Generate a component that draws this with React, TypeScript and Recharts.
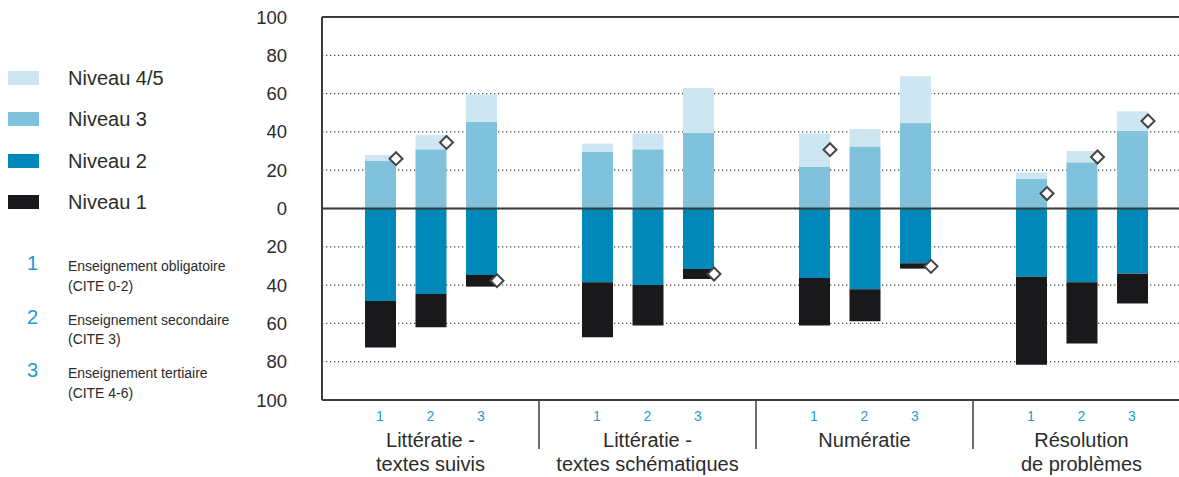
import React from 'react';
import { BarChart, Bar, XAxis, YAxis, CartesianGrid, ReferenceLine } from 'recharts';

// domaines de compétences (catégories de l'axe X)
const domaines = [
  ['Littératie -', 'textes suivis'],
  ['Littératie -', 'textes schématiques'],
  ['Numératie'],
  ['Résolution', 'de problèmes'],
];

// niveaux de formation : 1 obligatoire, 2 secondaire, 3 tertiaire
const formations = ['1', '2', '3'];
const formationLabels = [
  ['Enseignement obligatoire', '(CITE 0-2)'],
  ['Enseignement secondaire', '(CITE 3)'],
  ['Enseignement tertiaire', '(CITE 4-6)'],
];

// pourcentages par domaine, puis par formation (1, 2, 3)
const niveau1 = [
  [24.3, 17.4, 6.1],
  [28.7, 21.2, 5.2],
  [24.8, 16.7, 2.8],
  [46.0, 32.0, 15.6],
];
const niveau2 = [
  [48.3, 44.6, 34.7],
  [38.5, 39.9, 31.6],
  [36.3, 42.2, 28.6],
  [35.6, 38.5, 34.0],
];
const niveau3 = [
  [24.8, 30.9, 45.3],
  [29.5, 30.9, 39.4],
  [21.7, 32.4, 44.6],
  [15.6, 24.1, 40.6],
];
const niveau45 = [
  [3.2, 7.5, 14.4],
  [4.4, 8.3, 23.5],
  [17.5, 9.1, 24.5],
  [3.0, 5.9, 10.1],
];
// losanges (comparaison)
const marqueurs = [
  [26.0, 34.5, -37.7],
  [null, null, -34.2],
  [30.7, null, -30.2],
  [7.8, 26.9, 45.7],
];

const yTicks = [-100, -80, -60, -40, -20, 0, 20, 40, 60, 80, 100];

const BLEU = '#1e9bd7';
const GRIS = '#3c3c3c';
const FONT = '"Liberation Sans", Arial, sans-serif';

const BAR_SIZE = 31;
const BAR_GAP = 19.5;

// ordre de déclaration = ordre d'empilement (négatif : 2 puis 1, positif : 3 puis 4/5)
const series = [
  { key: 'n2', label: 'Niveau 2', color: '#0088b9', values: niveau2, sign: -1 },
  { key: 'n1', label: 'Niveau 1', color: '#19191b', values: niveau1, sign: -1 },
  { key: 'n3', label: 'Niveau 3', color: '#80c2dc', values: niveau3, sign: 1 },
  { key: 'n45', label: 'Niveau 4/5', color: '#cde6f1', values: niveau45, sign: 1 },
];

const legendOrder = ['n45', 'n3', 'n2', 'n1'];

const data = domaines.map((name, i) => {
  const row: any = { name: name.join(' '), idx: i };
  formations.forEach((_, j) => {
    series.forEach(s => {
      row[`${s.key}_${j}`] = s.sign * s.values[i][j];
    });
    row[`m_${j}`] = marqueurs[i][j];
  });
  return row;
});

function Diamond({ cx, cy }: { cx: number; cy: number }) {
  const r = 6.5;
  return (
    <path
      d={`M${cx},${cy - r} L${cx + r},${cy} L${cx},${cy + r} L${cx - r},${cy} Z`}
      fill="#fff"
      stroke="#444"
      strokeWidth={2}
    />
  );
}

// segment supérieur + losange au bord droit de la barre
function topShape(props: any, j: number) {
  const { x, y, width, height, fill, payload, background } = props;
  const m = payload[`m_${j}`];
  let dy: number | null = null;
  if (m !== null && m !== undefined) {
    if (background && background.height) {
      dy = background.y + ((100 - m) / 200) * background.height;
    } else {
      const v45 = payload[`n45_${j}`];
      const v3 = payload[`n3_${j}`];
      const k = height / v45;
      const zero = y + height + v3 * k;
      dy = zero - m * k;
    }
  }
  return (
    <g>
      <rect x={x} y={y} width={width} height={Math.abs(height)} fill={fill} />
      {dy !== null && <Diamond cx={x + width} cy={dy} />}
    </g>
  );
}

function DomaineTick(props: any) {
  const { x, y, payload, index } = props;
  const band = payload && payload.offset ? payload.offset * 2 : 217;
  const lines = domaines[index] || [];
  const step = BAR_SIZE + BAR_GAP;
  return (
    <g>
      {index > 0 && (
        <line x1={x - band / 2} x2={x - band / 2} y1={y} y2={y + 49} stroke={GRIS} strokeWidth={1.5} />
      )}
      {formations.map((f, j) => (
        <text
          key={f}
          x={x + (j - 1) * step}
          y={y + 21}
          textAnchor="middle"
          fontSize={14}
          fill={BLEU}
          fontFamily={FONT}
        >
          {f}
        </text>
      ))}
      {lines.map((l, k) => (
        <text
          key={k}
          x={x}
          y={y + 47 + k * 23.5}
          textAnchor="middle"
          fontSize={20}
          fill="#2b2b2b"
          fontFamily={FONT}
        >
          {l}
        </text>
      ))}
    </g>
  );
}

export default function App() {
  return (
    <div
      style={{
        position: 'absolute',
        left: 0,
        top: 0,
        width: 1179,
        height: 477,
        overflow: 'hidden',
        background: '#fff',
        fontFamily: FONT,
      }}
    >
      <BarChart
        width={1200}
        height={477}
        data={data}
        stackOffset="sign"
        barGap={BAR_GAP}
        margin={{ top: 17, right: 10, bottom: 0, left: 0 }}
      >
        <CartesianGrid
          horizontal
          vertical={false}
          stroke="#444"
          strokeDasharray="1.3 2.7"
          strokeWidth={1.3}
        />
        <XAxis
          dataKey="name"
          interval={0}
          tickLine={false}
          tickSize={0}
          tickMargin={0}
          height={77}
          axisLine={{ stroke: GRIS, strokeWidth: 2 }}
          tick={<DomaineTick />}
        />
        <YAxis
          type="number"
          domain={[-100, 100]}
          ticks={yTicks}
          interval={0}
          width={322}
          tickLine={false}
          tickSize={0}
          tickMargin={35}
          axisLine={{ stroke: GRIS, strokeWidth: 2 }}
          tickFormatter={(v: number) => String(Math.abs(v))}
          tick={{ fontSize: 18.5, fill: '#2b2b2b', fontFamily: FONT }}
        />
        {series.map(s =>
          formations.map((f, j) => (
            <Bar
              key={`${s.key}_${j}`}
              dataKey={`${s.key}_${j}`}
              stackId={`f${j}`}
              fill={s.color}
              barSize={BAR_SIZE}
              isAnimationActive={false}
              shape={s.key === 'n45' ? (p: any) => topShape(p, j) : undefined}
            />
          ))
        )}
        <ReferenceLine y={0} stroke={GRIS} strokeWidth={2} />
        <ReferenceLine y={100} stroke={GRIS} strokeWidth={2} />
      </BarChart>

      {/* légende niveaux */}
      {legendOrder.map((k, i) => {
        const s = series.find(x => x.key === k)!;
        return (
          <div key={k} style={{ position: 'absolute', left: 8, top: 71 + i * 41.3, height: 15 }}>
            <div style={{ position: 'absolute', left: 0, top: 0, width: 31, height: 14, background: s.color }} />
            <div
              style={{
                position: 'absolute',
                left: 60,
                top: -5,
                fontSize: 20,
                color: '#2b2b2b',
                whiteSpace: 'nowrap',
                lineHeight: '24px',
              }}
            >
              {s.label}
            </div>
          </div>
        );
      })}

      {/* légende formations */}
      {formations.map((f, i) => (
        <div key={f} style={{ position: 'absolute', left: 0, top: 252 + i * 53.5 }}>
          <div
            style={{
              position: 'absolute',
              left: 27,
              top: 0,
              fontSize: 20,
              color: BLEU,
              lineHeight: '22px',
            }}
          >
            {f}
          </div>
          <div
            style={{
              position: 'absolute',
              left: 68,
              top: 4,
              fontSize: 15.5,
              color: '#2b2b2b',
              lineHeight: '19.5px',
              whiteSpace: 'nowrap',
              transform: 'scaleX(0.9)',
              transformOrigin: 'left top',
            }}
          >
            {formationLabels[i][0]}
            <br />
            {formationLabels[i][1]}
          </div>
        </div>
      ))}
    </div>
  );
}
